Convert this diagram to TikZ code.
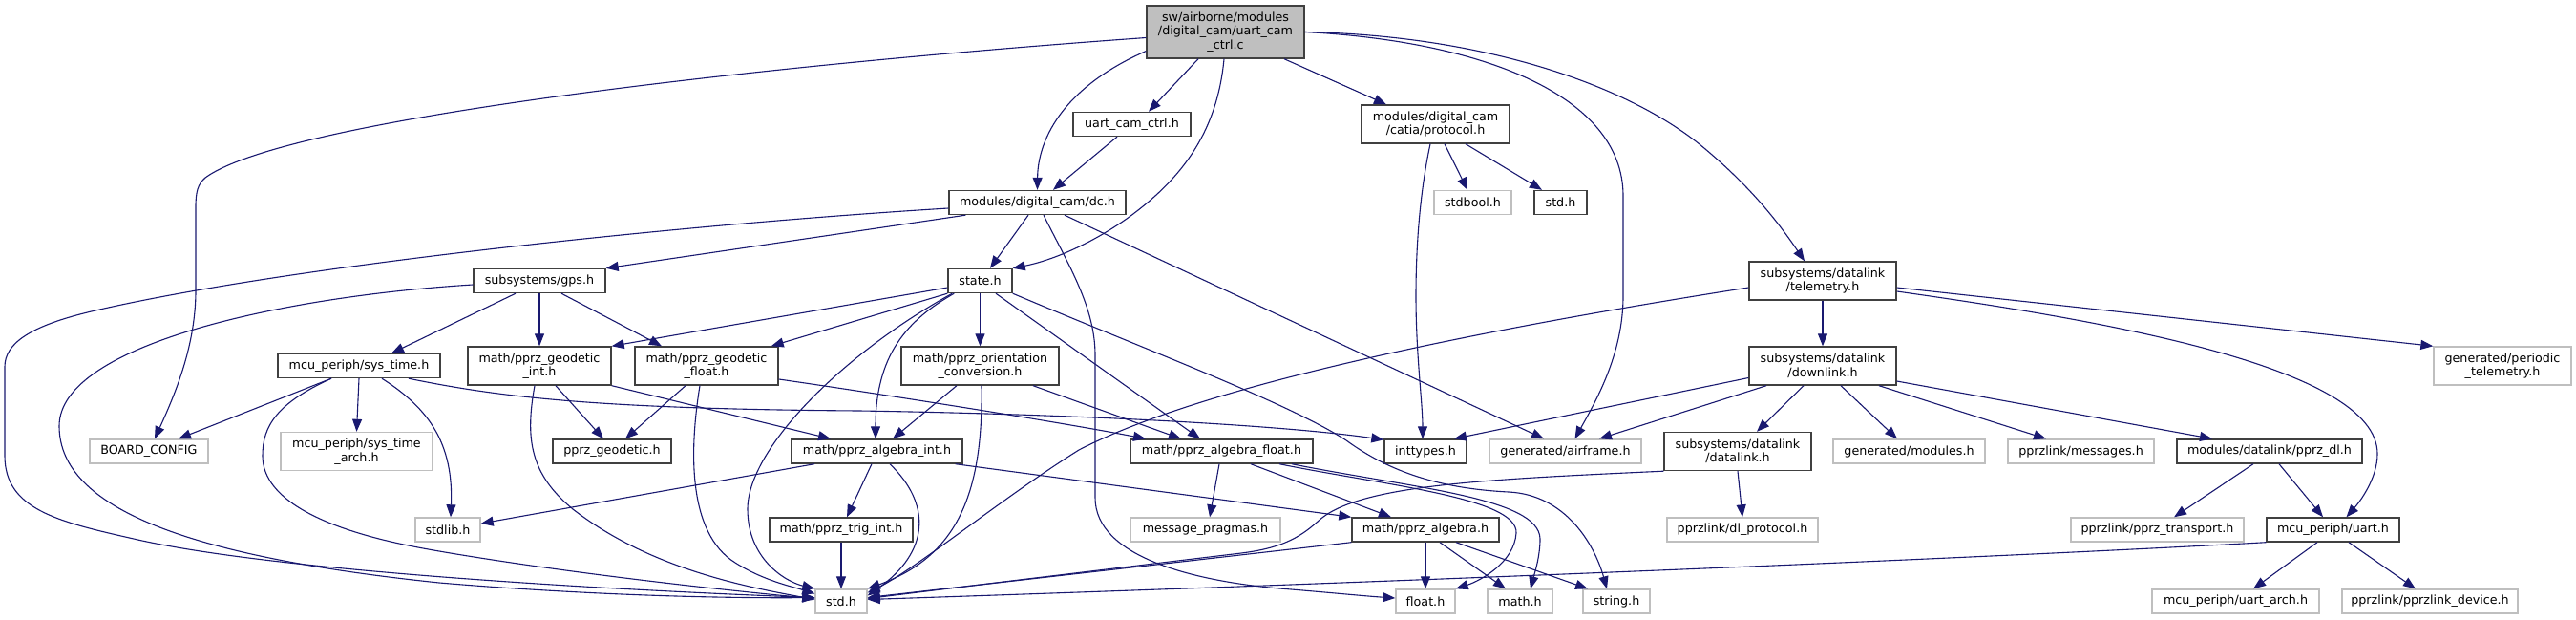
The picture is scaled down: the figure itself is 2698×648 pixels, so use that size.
\documentclass[tikz,border=0pt]{standalone}
\usepackage{fontspec}
\usepackage{tikz}
\usetikzlibrary{arrows.meta}
\newfontfamily\dvs{DejaVu Sans}
\definecolor{edg}{HTML}{191970}
\definecolor{bl}{HTML}{404040}
\definecolor{gl}{HTML}{BFBFBF}
\newcommand{\nfont}{\dvs\fontsize{12.7pt}{14.5pt}\selectfont}
\tikzset{
  box/.style={draw=bl,line width=1.4pt,fill=white,inner sep=0pt,align=center,font=\nfont,minimum height=25pt},
  gbox/.style={box,draw=gl},
  rbox/.style={box,fill=gl},
  two/.style={minimum height=40pt},
  ar/.style={-{Triangle[length=13pt,width=10pt]},line width=1.1pt,draw=edg},
}
\begin{document}
\begin{tikzpicture}[x=1pt,y=-1pt]
\useasboundingbox[fill=white] (0,0) rectangle (2698,648);
\node[rbox,minimum width=165,minimum height=55] (root) at (1283.5,33.5) {sw/airborne/modules\\/digital\_cam/uart\_cam\\\_ctrl.c};
\node[box,minimum width=123] (ucc) at (1185.5,130) {uart\_cam\_ctrl.h};
\node[box,two,minimum width=155] (proto) at (1503.5,130) {modules/digital\_cam\\/catia/protocol.h};
\node[box,minimum width=185] (dc) at (1086.5,212) {modules/digital\_cam/dc.h};
\node[gbox,minimum width=81] (stdbool) at (1542.5,212) {stdbool.h};
\node[box,minimum width=55] (stdtop) at (1634.5,212) {std.h};
\node[box,minimum width=138] (gps) at (565,294) {subsystems/gps.h};
\node[box,minimum width=67] (state) at (1026.5,294) {state.h};
\node[box,two,minimum width=154] (telem) at (1909,294) {subsystems/datalink\\/telemetry.h};
\node[box,minimum width=170] (systime) at (376,383) {mcu\_periph/sys\_time.h};
\node[box,two,minimum width=150] (geoint) at (565,383) {math/pprz\_geodetic\\\_int.h};
\node[box,two,minimum width=150] (geofloat) at (740,383) {math/pprz\_geodetic\\\_float.h};
\node[box,two,minimum width=165] (orient) at (1026.5,383) {math/pprz\_orientation\\\_conversion.h};
\node[box,two,minimum width=154] (downlink) at (1909,383) {subsystems/datalink\\/downlink.h};
\node[gbox,two,minimum width=144] (periodic) at (2621,383) {generated/periodic\\\_telemetry.h};
\node[gbox,minimum width=124] (board) at (156,472.5) {BOARD\_CONFIG};
\node[gbox,two,minimum width=159] (sysarch) at (373.5,472.5) {mcu\_periph/sys\_time\\\_arch.h};
\node[box,minimum width=124] (geodetic) at (641,472.5) {pprz\_geodetic.h};
\node[box,minimum width=179] (algint) at (918.5,472.5) {math/pprz\_algebra\_int.h};
\node[box,minimum width=191] (algfloat) at (1279.5,472.5) {math/pprz\_algebra\_float.h};
\node[box,minimum width=86] (inttypes) at (1493,472.5) {inttypes.h};
\node[gbox,minimum width=159] (airframe) at (1639.5,472.5) {generated/airframe.h};
\node[box,two,minimum width=154] (datalink) at (1820,472.5) {subsystems/datalink\\/datalink.h};
\node[gbox,minimum width=159] (modules) at (1999.5,472.5) {generated/modules.h};
\node[gbox,minimum width=153] (messages) at (2179.5,472.5) {pprzlink/messages.h};
\node[box,minimum width=194] (pprzdl) at (2377,472.5) {modules/datalink/pprz\_dl.h};
\node[gbox,minimum width=68] (stdlib) at (469,554.5) {stdlib.h};
\node[box,minimum width=150] (trig) at (881,554.5) {math/pprz\_trig\_int.h};
\node[gbox,minimum width=157] (pragmas) at (1262.5,554.5) {message\_pragmas.h};
\node[box,minimum width=154] (algebra) at (1493,554.5) {math/pprz\_algebra.h};
\node[gbox,minimum width=158] (dlproto) at (1825,554.5) {pprzlink/dl\_protocol.h};
\node[gbox,minimum width=181] (transport) at (2259.5,554.5) {pprzlink/pprz\_transport.h};
\node[box,minimum width=139] (uart) at (2443.5,554.5) {mcu\_periph/uart.h};
\node[gbox,minimum width=54] (std) at (881,629.5) {std.h};
\node[gbox,minimum width=62] (float) at (1493,629.5) {float.h};
\node[gbox,minimum width=68] (math) at (1592,629.5) {math.h};
\node[gbox,minimum width=70] (string) at (1693,629.5) {string.h};
\node[gbox,minimum width=175] (uarch) at (2341.5,629.5) {mcu\_periph/uart\_arch.h};
\node[gbox,minimum width=184] (device) at (2545,629.5) {pprzlink/pprzlink\_device.h};

\draw[ar] ([yshift=-6pt]root.west) .. controls (800,68) and (300,124) .. (215,186) .. controls (207,193) and (205,201) .. (205,217) -- (205,304) .. controls (205,360) and (185,409) .. ([xshift=6pt]board.north);
\draw[ar] ([yshift=-20pt]root.west) .. controls (1110,93) and (1087,149) .. (dc.north);
\draw[ar] ([xshift=-28.5pt]root.south) -- ([xshift=17.5pt]ucc.north);
\draw[ar] ([xshift=-1.5pt]root.south) .. controls (1275,136) and (1240,186) .. (1180,229) .. controls (1140,257) and (1100,273) .. (state.north east);
\draw[ar] ([xshift=61.5pt]root.south) -- ([xshift=-51.5pt]proto.north);
\draw[ar] (root.east) .. controls (1550,43) and (1700,99) .. (1700,205) -- (1700,310) .. controls (1700,372) and (1670,422) .. ([xshift=10pt]airframe.north);
\draw[ar] (root.east) .. controls (1550,37) and (1700,87) .. (1780,151) .. controls (1830,192) and (1860,229) .. ([xshift=-19pt]telem.north);
\draw[ar] ([xshift=-15.5pt]ucc.south) -- ([xshift=16.5pt]dc.north);
\draw[ar] ([xshift=-5.5pt]proto.south) .. controls (1485,211) and (1483,273) .. (1483,310) .. controls (1483,372) and (1490,422) .. ([xshift=-3pt]inttypes.north);
\draw[ar] ([xshift=9.5pt]proto.south) -- ([xshift=-5.5pt]stdbool.north);
\draw[ar] ([xshift=31.5pt]proto.south) -- ([xshift=-19.5pt]stdtop.north);

\draw[ar] ([xshift=18pt]dc.south west) -- (gps.north east);
\draw[ar] ([xshift=-9.5pt]dc.south) -- ([xshift=10.5pt]state.north);
\draw[ar] ([xshift=6.5pt]dc.south) .. controls (1120,279) and (1147,322) .. (1147,372) -- (1147,521) .. controls (1147,583) and (1250,608) .. (1340,616) .. controls (1390,620) and (1430,624) .. ([yshift=3.5pt]float.west);
\draw[ar] ([xshift=28.5pt]dc.south) -- ([xshift=-22.5pt]airframe.north);
\draw[ar] ([yshift=-6pt]dc.west) .. controls (700,236) and (300,279) .. (100,325) .. controls (30,341) and (5,360) .. (5,384) -- (5,477) .. controls (5,533) and (60,546) .. (140,564) .. controls (300,601) and (700,620) .. ([yshift=4pt]std.west);

\draw[ar] ([yshift=-4pt]gps.west) .. controls (300,310) and (62,360) .. (62,446) .. controls (62,533) and (200,583) .. (460,610) .. controls (650,626) and (800,626) .. ([yshift=4pt]std.west);
\draw[ar] ([xshift=-25pt]gps.south) -- ([xshift=34pt]systime.north);
\draw[ar] (gps.south) -- (geoint.north);
\draw[ar] ([xshift=23pt]gps.south) -- ([xshift=-47pt]geofloat.north);

\draw[ar] ([xshift=-29pt]systime.south) .. controls (290,422) and (275,446) .. (275,477) .. controls (275,546) and (420,570) .. (460,577) .. controls (600,601) and (780,620) .. ([yshift=3pt]std.west);
\draw[ar] ([xshift=-29pt]systime.south) -- ([xshift=31pt]board.north);
\draw[ar] (systime.south) -- (sysarch.north);
\draw[ar] ([xshift=24pt]systime.south) .. controls (450,428) and (475,465) .. ([xshift=3pt]stdlib.north);
\draw[ar] ([xshift=52pt]systime.south) .. controls (520,415) and (620,428) .. (900,430) .. controls (1150,434) and (1350,446) .. ([yshift=-1pt]inttypes.north west);

\draw[ar] ([yshift=-7pt]state.west) -- (geoint.north east);
\draw[ar] (state.south west) -- ([xshift=-8pt]geofloat.north east);
\draw[ar] ([xshift=7pt]state.south west) .. controls (950,335) and (917,372) .. ([xshift=-1.5pt]algint.north);
\draw[ar] ([xshift=5pt]state.south west) .. controls (880,372) and (783,471) .. (783,533) .. controls (783,583) and (820,608) .. (std.north west);
\draw[ar] (state.south) -- (orient.north);
\draw[ar] ([xshift=16.5pt]state.south) -- ([xshift=-22.5pt]algfloat.north);
\draw[ar] (state.south east) .. controls (1200,366) and (1350,422) .. (1410,461) .. controls (1450,490) and (1500,511) .. (1580,515) .. controls (1640,518) and (1670,570) .. ([xshift=-10pt]string.north);

\draw[ar] ([xshift=-24.5pt]orient.south) -- ([xshift=16.5pt]algint.north);
\draw[ar] ([xshift=55.5pt]orient.south) -- ([xshift=-42.5pt]algfloat.north);
\draw[ar] ([xshift=1.5pt]orient.south) .. controls (1030,521) and (1000,583) .. (std.north east);

\draw[ar] ([xshift=17pt]geoint.south) -- ([xshift=-9pt]geodetic.north);
\draw[ar] (geoint.south east) -- ([xshift=-48.5pt]algint.north);
\draw[ar] ([xshift=-5pt]geoint.south) .. controls (550,459) and (555,496) .. (600,533) .. controls (680,595) and (780,614) .. ([yshift=2pt]std.west);
\draw[ar] ([xshift=-22pt]geofloat.south) -- ([xshift=14pt]geodetic.north);
\draw[ar] ([xshift=-7pt]geofloat.south) .. controls (722,471) and (720,558) .. (770,589) .. controls (800,608) and (830,614) .. ([yshift=8pt]std.west);
\draw[ar] ([yshift=-14pt]geofloat.east) .. controls (900,409) and (1100,440) .. ([xshift=-79.5pt]algfloat.north);

\draw[ar] ([xshift=-5.5pt]algint.south) -- ([xshift=6pt]trig.north);
\draw[ar] ([xshift=13.5pt]algint.south) .. controls (975,527) and (975,577) .. ([yshift=6pt]std.east);
\draw[ar] ([xshift=-65.5pt]algint.south) -- ([yshift=6.5pt]stdlib.east);
\draw[ar] ([xshift=-8pt]algint.south east) -- (algebra.north west);
\draw[ar] (trig.south) -- (std.north);

\draw[ar] ([xshift=-2.5pt]algfloat.south) -- ([xshift=4.5pt]pragmas.north);
\draw[ar] ([xshift=30.5pt]algfloat.south) -- ([xshift=-36pt]algebra.north);
\draw[ar] ([xshift=60.5pt]algfloat.south) .. controls (1450,508) and (1590,521) .. (1588,558) .. controls (1586,589) and (1550,608) .. (float.north east);
\draw[ar] ([xshift=73.5pt]algfloat.south) .. controls (1480,511) and (1612,521) .. (1613,564) .. controls (1613,583) and (1607,601) .. ([xshift=11pt]math.north);

\draw[ar] (algebra.south) -- (float.north);
\draw[ar] ([xshift=15pt]algebra.south) -- ([xshift=-15pt]math.north);
\draw[ar] ([xshift=32pt]algebra.south) -- ([xshift=-30pt]string.north);
\draw[ar] (algebra.south west) -- ([yshift=4pt]std.east);

\draw[ar] (telem.south) -- (downlink.north);
\draw[ar] ([yshift=-7pt]telem.east) -- (periodic.north west);
\draw[ar] ([yshift=-11pt]telem.east) .. controls (2200,335) and (2490,384) .. (2490,475) .. controls (2490,502) and (2470,527) .. ([xshift=14pt]uart.north);
\draw[ar] ([yshift=-7pt]telem.west) .. controls (1500,353) and (1250,409) .. (1130,471) .. controls (1050,521) and (960,595) .. ([yshift=9pt]std.east);

\draw[ar] ([yshift=-12.5pt]downlink.west) -- ([xshift=30pt]inttypes.north);
\draw[ar] ([xshift=-59pt]downlink.south) -- ([xshift=35.5pt]airframe.north);
\draw[ar] ([xshift=-20pt]downlink.south) -- ([xshift=20pt]datalink.north);
\draw[ar] ([xshift=19pt]downlink.south) -- ([xshift=-12.5pt]modules.north);
\draw[ar] ([xshift=59pt]downlink.south) -- ([xshift=-36.5pt]messages.north);
\draw[ar] ([yshift=-16pt]downlink.east) -- ([xshift=-60pt]pprzdl.north);

\draw[ar] (datalink.south) -- (dlproto.north);
\draw[ar] (datalink.south west) .. controls (1550,502) and (1420,508) .. (1380,546) .. controls (1360,564) and (1340,574) .. (1300,579) .. controls (1100,603) .. ([yshift=3pt]std.east);

\draw[ar] ([xshift=-17pt]pprzdl.south) -- ([xshift=17.5pt]transport.north);
\draw[ar] ([xshift=10pt]pprzdl.south) -- ([xshift=-10.5pt]uart.north);
\draw[ar] ([xshift=-16.5pt]uart.south) -- ([xshift=18.5pt]uarch.north);
\draw[ar] ([xshift=16.5pt]uart.south) -- ([xshift=-15pt]device.north);
\draw[ar] (uart.south west) .. controls (2100,583) and (1500,608) .. ([yshift=2pt]std.east);
\end{tikzpicture}
\end{document}
